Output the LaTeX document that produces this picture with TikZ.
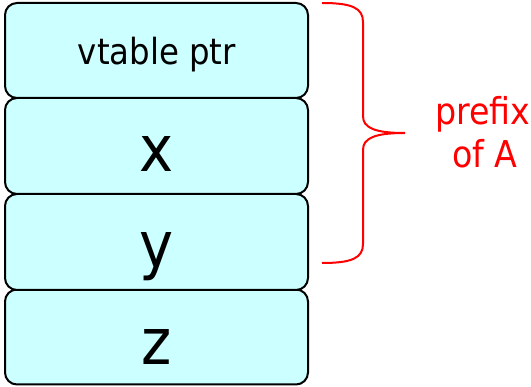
\documentclass[tikz,border=0pt]{standalone}
\usepackage{fontspec}
\setmainfont{DejaVu Sans Condensed}
\definecolor{cellfill}{HTML}{CCFFFF}
\definecolor{bracered}{HTML}{FF0000}
\begin{document}
\begin{tikzpicture}[x=1pt,y=-1pt,
  cell/.style={draw=black, line width=2pt, fill=cellfill, rounded corners=12pt,
    minimum width=303pt, inner sep=0pt},
  big/.style={anchor=base, font=\fontsize{64}{64}\selectfont, inner sep=0pt},
  small/.style={anchor=base, font=\fontsize{36}{36}\selectfont, inner sep=0pt},
  note/.style={anchor=base, text=bracered, font=\fontsize{37}{37}\selectfont, inner sep=0pt},
  bracepath/.style={draw=bracered, line width=2pt}]
\useasboundingbox (0,0) rectangle (531,387);
\node[cell, minimum height=95pt] (b4) at (156.5,337) {};
\node[cell, minimum height=96pt] (b3) at (156.5,242) {};
\node[cell, minimum height=96pt] (b2) at (156.5,146) {};
\node[cell, minimum height=95pt] (b1) at (156.5,50.5) {};
\node[small] (t1) at (157,65) {vtable ptr};
\node[big] (t2) at (157,172) {x};
\node[big] (t3) at (157,268) {y};
\node[big] (t4) at (157,365) {z};
\coordinate (btop) at (322,3);
\coordinate (bmid) at (405,133);
\coordinate (bbot) at (322,263);
\draw[bracepath] (btop) .. controls (352,3) and (363,8) .. (363,22) -- (363,116)
  .. controls (363,128) and (375,133) .. (bmid)
  .. controls (375,133) and (363,138) .. (363,150) -- (363,244)
  .. controls (363,258) and (352,263) .. (bbot);
\node[note] (n1) at (483,125) {prefix};
\node[note] (n2) at (485,168) {of A};
\end{tikzpicture}
\end{document}
